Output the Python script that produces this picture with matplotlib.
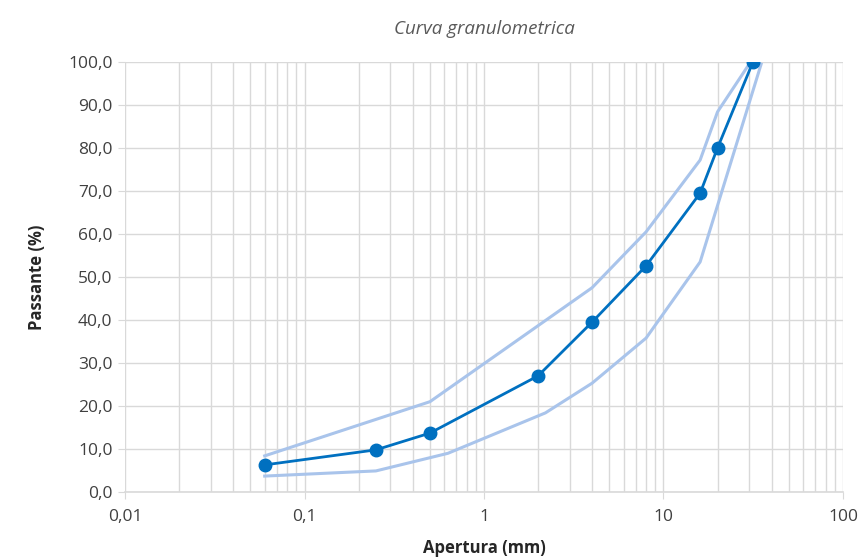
import numpy as np
import matplotlib
matplotlib.use('Agg')
import matplotlib.pyplot as plt
from matplotlib.ticker import FixedLocator, FuncFormatter, LogLocator, NullFormatter

# Sieve openings (mm) and passing percentage of the sample
apertura = [0.06, 0.25, 0.5, 2, 4, 8, 16, 20, 31.5]
passante = [6.3, 9.8, 13.7, 27.0, 39.5, 52.6, 69.5, 80.0, 100.0]

# Upper and lower envelope of the reference spindle
fuso_sup_x = [0.06, 0.5, 4, 8, 16, 20, 30]
fuso_sup_y = [8.4, 21.0, 47.5, 60.5, 77.2, 88.4, 99.5]
fuso_inf_x = [0.06, 0.25, 0.63, 2.2, 4, 8, 16, 35]
fuso_inf_y = [3.7, 4.9, 9.0, 18.4, 25.3, 35.8, 53.5, 99.5]

x_ticks = [0.01, 0.1, 1, 10, 100]
x_labels = ['0,01', '0,1', '1', '10', '100']
y_ticks = np.arange(0, 101, 10)

plt.rcParams['font.family'] = ['Open Sans', 'DejaVu Sans']

fig = plt.figure(figsize=(8.58, 5.58), dpi=100)
ax = fig.add_axes([0.1457, 0.1183, 0.8368, 0.7706])

grid_color = '#d9d9d9'
text_color = '#404040'

ax.plot(fuso_sup_x, fuso_sup_y, color='#a9c4eb', lw=2.2, zorder=3)
ax.plot(fuso_inf_x, fuso_inf_y, color='#a9c4eb', lw=2.2, zorder=3)
ax.plot(apertura, passante, color='#0070c0', lw=2.0, marker='o', ms=9, zorder=4)

ax.set_xscale('log')
ax.set_xlim(0.01, 100)
ax.set_ylim(0, 100)

ax.xaxis.set_major_locator(FixedLocator(x_ticks))
ax.xaxis.set_major_formatter(FuncFormatter(lambda v, p: x_labels[x_ticks.index(v)] if v in x_ticks else ''))
ax.xaxis.set_minor_locator(LogLocator(base=10, subs=np.arange(2, 10)))
ax.xaxis.set_minor_formatter(NullFormatter())
ax.set_yticks(y_ticks)
ax.set_yticklabels([('%.1f' % v).replace('.', ',') for v in y_ticks])

ax.grid(which='both', axis='x', color=grid_color, lw=1.0)
ax.grid(which='major', axis='y', color=grid_color, lw=1.0)
ax.set_axisbelow(True)

for s in ['top', 'right', 'left']:
    ax.spines[s].set_visible(False)
ax.spines['bottom'].set_color(grid_color)
ax.spines['bottom'].set_linewidth(1.2)

ax.tick_params(axis='x', which='major', length=5, color=grid_color, labelsize=12.5,
               labelcolor=text_color, pad=7)
ax.tick_params(axis='x', which='minor', length=0)
ax.tick_params(axis='y', length=5, color=grid_color, labelsize=12.5, labelcolor=text_color, pad=4)

ax.set_xlabel('Apertura (mm)', fontsize=12, fontweight='bold', color='#262626', labelpad=10)
ax.set_ylabel('Passante (%)', fontsize=12, fontweight='bold', color='#262626', labelpad=16)
ax.set_title('Curva granulometrica', fontsize=13.5, style='italic', color='#595959', pad=20)

fig.savefig('out.png', dpi=100)
